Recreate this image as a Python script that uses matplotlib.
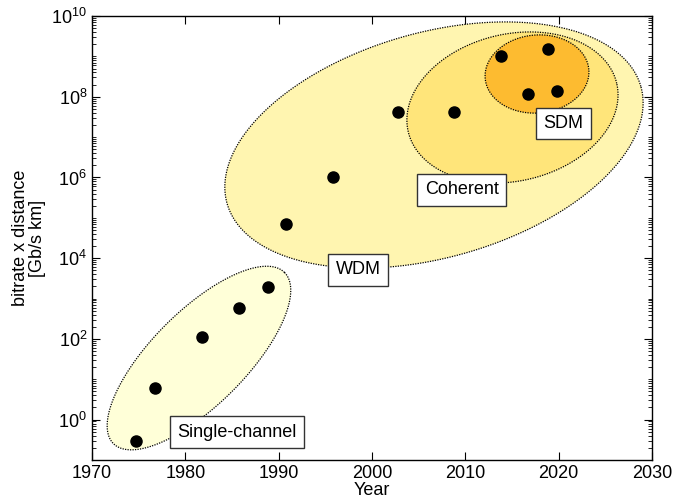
import numpy as np
import matplotlib.pyplot as plt
from matplotlib.ticker import FixedLocator, LogLocator, NullFormatter, FuncFormatter

plt.rcParams['font.family'] = ['Liberation Sans', 'DejaVu Sans']
plt.rcParams['mathtext.fontset'] = 'custom'
plt.rcParams['mathtext.rm'] = 'Liberation Sans'
plt.rcParams['mathtext.it'] = 'Liberation Sans'

# data points (year, bitrate x distance)
years = [1974.7, 1976.75, 1981.8, 1985.75, 1988.9, 1990.8, 1995.8,
         2002.8, 2008.8, 2013.8, 2018.9, 2016.7, 2019.8]
values = [0.3, 6, 110, 600, 1900, 7e4, 1e6,
          4.2e7, 4.2e7, 1e9, 1.5e9, 1.2e8, 1.4e8]

# region ellipses: centre (year, log10 value), semi-axes in pixels, tilt
regions = ['WDM', 'Coherent', 'SDM', 'Single-channel']
centre_year = [2006.64, 2015.05, 2017.68, 1981.46]
centre_log = [6.804, 7.733, 8.563, 1.526]
semi_a = [215, 107, 52, 121]
semi_b = [112.5, 73.5, 39, 47]
tilt = [15.8, 13, 5, 45]
fills = ['#fff5b0', '#ffe57a', '#fdbb30', '#ffffd8']

# label positions
label_year = [1998.5, 2009.6, 2020.5, 1985.5]
label_val = [5100, 4.9e5, 2.2e7, 0.49]

fig = plt.figure(figsize=(6.86, 5.0), dpi=100)
ax = fig.add_axes([92 / 686, 40 / 500, 560 / 686, 444 / 500])
ax.set_xlim(1970, 2030)
ax.set_yscale('log')
ax.set_ylim(1e-1, 1e10)

# pixels per year / per decade for drawing ellipses in screen shape
px_year = 560 / 60
px_dec = 444 / 11

t = np.linspace(0, 2 * np.pi, 400)
for name, cx, cy, a, b, ang, fc in zip(regions, centre_year, centre_log,
                                         semi_a, semi_b, tilt, fills):
    th = np.deg2rad(ang)
    dx = a * np.cos(t) * np.cos(th) - b * np.sin(t) * np.sin(th)
    dy = a * np.cos(t) * np.sin(th) + b * np.sin(t) * np.cos(th)
    ex = cx + dx / px_year
    ey = 10 ** (cy + dy / px_dec)
    ax.fill(ex, ey, facecolor=fc, edgecolor='black', linestyle=(0, (1, 1)),
            linewidth=0.9, zorder=1)

ax.plot(years, values, 'o', color='black', markersize=8, zorder=3)

for name, lx, ly in zip(regions, label_year, label_val):
    ax.text(lx, ly, name, fontsize=13, ha='center', va='center', zorder=4,
            bbox=dict(boxstyle='square,pad=0.4', facecolor='white',
                      edgecolor='#333333', linewidth=1))

ax.set_xticks(np.arange(1970, 2031, 10))
ax.yaxis.set_major_locator(FixedLocator(10.0 ** np.arange(0, 11, 2)))
ax.yaxis.set_minor_locator(LogLocator(base=10, subs=np.arange(1, 10), numticks=100))
ax.yaxis.set_minor_formatter(NullFormatter())
ax.yaxis.set_major_formatter(FuncFormatter(lambda v, p: r'$10^{%d}$' % round(np.log10(v))))

ax.tick_params(which='both', direction='in', top=True, right=True, labelsize=13)
ax.tick_params(which='major', length=6, width=0.8)
ax.tick_params(which='minor', length=3, width=0.6)
for s in ax.spines.values():
    s.set_linewidth(1)
    s.set_zorder(5)

ax.set_xlabel('Year', fontsize=13, labelpad=0)
ax.set_ylabel('bitrate x distance\n[Gb/s km]', fontsize=13, linespacing=1.0)

fig.savefig('out.png', dpi=100)
